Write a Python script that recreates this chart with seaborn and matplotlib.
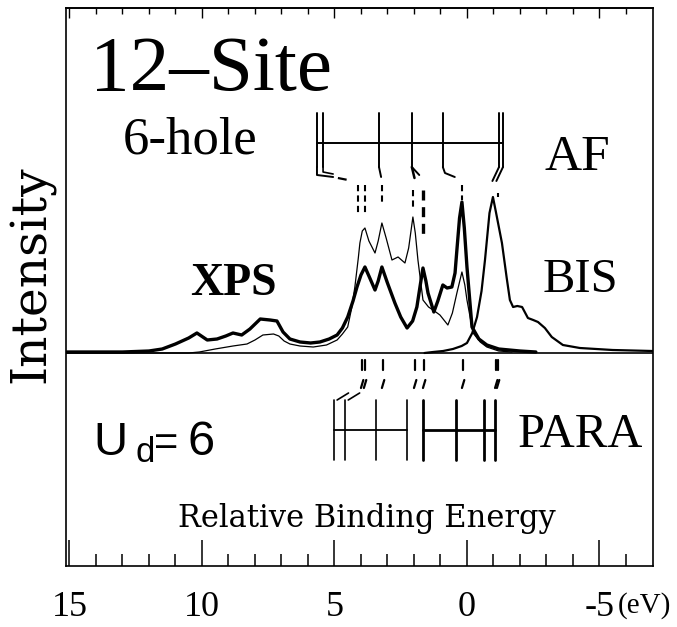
import matplotlib
matplotlib.use("Agg")
import matplotlib.pyplot as plt
import matplotlib.transforms as mtransforms
import pandas as pd
import seaborn as sns

# XPS, AF ground state (thick curve)
af_energy = [15.1, 13.0, 12.0, 11.5, 11.0, 10.5, 10.19, 9.8, 9.43, 9.1, 8.83, 8.5, 8.19, 7.8,
             7.43, 7.17, 6.94, 6.68, 6.3, 5.9, 5.55, 5.2, 4.9, 4.7, 4.5, 4.3, 4.15, 4.0, 3.85,
             3.65, 3.47, 3.35, 3.21, 3.0, 2.72, 2.5, 2.26, 2.05, 1.89, 1.75, 1.66, 1.55, 1.47,
             1.25, 1.1, 0.91, 0.75, 0.57, 0.45, 0.38, 0.28, 0.19, 0.1, 0.0, -0.19, -0.45,
             -0.75, -1.2, -2.0, -2.6]
af_intensity = [1, 1, 2, 4, 9, 15, 20, 13, 14, 17, 20, 18, 24, 34,
                33, 32, 21, 14, 11, 10, 11, 14, 18, 25, 36, 52, 66, 78, 86,
                74, 63, 72, 86, 70, 50, 36, 25, 32, 46, 70, 85, 72, 60,
                41, 52, 68, 65, 66, 80, 103, 135, 151, 125, 86, 26, 14,
                8, 4, 2, 1]

# XPS, paramagnetic (thin curve)
para_energy = [15.1, 12.0, 10.5, 10.1, 9.5, 8.83, 8.3, 8.0, 7.7, 7.3, 7.1, 6.9, 6.68, 6.3,
               5.8, 5.3, 4.9, 4.7, 4.5, 4.35, 4.23, 4.1, 4.04, 3.95, 3.85, 3.7, 3.47, 3.35,
               3.21, 3.05, 2.83, 2.6, 2.34, 2.2, 2.04, 1.95, 1.85, 1.66, 1.45, 1.28, 1.02,
               0.72, 0.55, 0.38, 0.19, 0.08, 0.0, -0.23, -0.5, -0.75, -1.2, -1.7]
para_intensity = [0, 0, 0, 1, 4, 7, 9, 13, 18, 19, 17, 12, 9, 7,
                  6, 8, 13, 19, 26, 45, 66, 95, 110, 122, 125, 112, 100, 112,
                  130, 115, 93, 96, 90, 105, 136, 120, 93, 53, 46, 43, 38,
                  28, 40, 60, 81, 68, 53, 20, 11, 6, 2, 1]

# BIS
bis_energy = [1.6, 1.28, 0.9, 0.53, 0.2, 0.0, -0.2, -0.38, -0.55, -0.68, -0.85, -0.98, -1.1,
              -1.32, -1.5, -1.62, -1.74, -1.9, -2.08, -2.3, -2.5, -2.68, -2.94, -3.2, -3.62,
              -4.26, -5.5, -7.0]
bis_intensity = [0, 1, 2, 4, 7, 10, 20, 36, 62, 93, 140, 156, 140,
                 110, 75, 53, 46, 47, 46, 35, 33, 31, 25, 16, 8,
                 5, 3, 2]

# level positions (eV)
af_levels = [5.66, 5.43, 3.32, 2.08, 0.91, -1.21, -1.36]
af_marks = [4.11, 3.85, 3.21, 2.04, 1.66, 0.19, -1.17]
para_levels = [5.02, 4.6, 3.43, 2.26, 1.66, 0.42, -0.64, -1.06]
para_marks = [3.96, 3.85, 3.17, 1.96, 1.62, 0.15, -1.1, -1.17]

major_ticks = [15, 10, 5, 0, -5]
major_labels = ["15", "10", "5", "0", "-5"]
minor_ticks = list(range(14, -7, -1))

sns.set_style("white")
plt.rcParams["font.family"] = ["Liberation Serif", "DejaVu Serif"]
plt.rcParams["text.color"] = "black"
plt.rcParams["xtick.color"] = "black"
SERIF = ["Liberation Serif", "DejaVu Serif"]
WIDE = ["DejaVu Serif"]
SANS = ["Liberation Sans", "DejaVu Sans"]

fig = plt.figure(figsize=(6.77, 6.27), dpi=100)
ax = fig.add_axes([66 / 677, 61 / 627, 587 / 677, 558 / 627])

spectra = pd.concat([
    pd.DataFrame({"E": af_energy, "I": af_intensity, "curve": "AF"}),
    pd.DataFrame({"E": para_energy, "I": para_intensity, "curve": "PARA"}),
    pd.DataFrame({"E": bis_energy, "I": bis_intensity, "curve": "BIS"}),
])
widths = {"AF": 2.4, "PARA": 0.9, "BIS": 1.6}
for name, part in spectra.groupby("curve"):
    sns.lineplot(data=part, x="E", y="I", ax=ax, color="black", lw=widths[name],
                 estimator=None, legend=False)

ax.axhline(0, color="black", lw=1.2)

ax.set_xlim(15.13, -7.02)
ax.set_ylim(-213, 345)
ax.set_xlabel("")
ax.set_ylabel("")
ax.set_yticks([])
ax.set_xticks(major_ticks)
ax.set_xticklabels(major_labels, fontsize=26, family=SERIF, color="black")
ax.set_xticks(minor_ticks, minor=True)
ax.tick_params(axis="x", which="major", direction="in", length=18.5, width=1.1, pad=18,
               bottom=True, top=False, color="black")
ax.tick_params(axis="x", which="minor", direction="in", length=8.5, width=1.1,
               bottom=True, top=False, color="black")
for s in ax.spines.values():
    s.set_linewidth(1.2)
    s.set_color("black")

top = ax.secondary_xaxis("top")
top.set_xticks(major_ticks)
top.set_xticks(minor_ticks, minor=True)
top.tick_params(which="major", direction="in", length=7, width=1.0, labeltop=False,
                color="black")
top.tick_params(which="minor", direction="in", length=4, width=1.0, labeltop=False,
                color="black")
top.spines["top"].set_linewidth(1.2)
top.spines["top"].set_color("black")

# AF level diagram
for e in af_levels:
    ax.plot([e, e], [240, 186], color="black", lw=1.4)
ax.plot([af_levels[0], af_levels[-1]], [210, 210], color="black", lw=1.4)
ax.plot([af_levels[0], af_levels[0], 5.05], [186, 178, 176], color="black", lw=1.4)
ax.plot([af_levels[1], af_levels[1], 5.05], [186, 181, 179], color="black", lw=1.2)
ax.plot([4.87, 4.3], [175, 172], color="black", lw=1.6, ls=(0, (4, 3)))
ax.plot([af_levels[2], af_levels[2] - 0.08], [186, 176], color="black", lw=1.4)
ax.plot([af_levels[3], af_levels[3] - 0.1], [186, 175], color="black", lw=1.8)
ax.plot([af_levels[3], af_levels[3] - 0.28], [186, 178], color="black", lw=1.4)
ax.plot([af_levels[4], af_levels[4] - 0.08, af_levels[4] - 0.45], [186, 180, 176],
        color="black", lw=1.4)
for e in af_levels[-2:]:
    ax.plot([e, e + 0.25], [186, 172], color="black", lw=1.4)

mark_spans = [(168, 138), (168, 138), (168, 148), (163, 143), (163, 113), (168, 153), (160, 156)]
for e, (y0, y1) in zip(af_marks, mark_spans):
    lw = 2.4 if e == af_marks[4] else 1.5
    ax.plot([e, e], [y0, y1], color="black", lw=lw, ls=(0, (3, 2)))

# PARA level diagram
for i, e in enumerate(para_levels):
    ax.plot([e, e], [-47, -107], color="black", lw=1.2 if i < 4 else 2.0)
ax.plot([para_levels[0], para_levels[3]], [-77, -77], color="black", lw=1.3)
ax.plot([para_levels[4], para_levels[-1]], [-77, -77], color="black", lw=2.0)
for e in para_levels[:2]:
    ax.plot([e - 0.12, e - 0.55], [-47, -40], color="black", lw=1.2)
for e in para_marks:
    ax.plot([e, e], [-7, -17], color="black", lw=1.6)
    ax.plot([e + 0.04, e - 0.05], [-35, -27], color="black", lw=1.6)

# labels
ax.text(14.23, 263, "12–Site", fontsize=57, family=SERIF, ha="left", va="baseline")
ax.text(12.98, 200, "6-hole", fontsize=38, family=SERIF, ha="left", va="baseline")
ax.text(-2.94, 183, "AF", fontsize=37, family=SERIF, ha="left", va="baseline")
ax.text(10.45, 58, "XPS", fontsize=33, family=SERIF, weight="bold", ha="left", va="baseline")
ax.text(-2.87, 61, "BIS", fontsize=35, family=SERIF, ha="left", va="baseline")
ax.text(-1.92, -94, "PARA", fontsize=35, family=SERIF, ha="left", va="baseline")
ax.text(14.1, -102, "U", fontsize=34, family=SANS, ha="left", va="baseline")
ax.text(12.5, -109, "d", fontsize=25, family=SANS, ha="left", va="baseline")
ax.text(11.8, -102, "=", fontsize=30, family=SANS, ha="left", va="baseline")
ax.text(10.55, -102, "6", fontsize=35, family=SANS, ha="left", va="baseline")
ax.text(3.77, -174, "Relative Binding Energy", fontsize=22, family=WIDE, ha="center",
        va="baseline")
trans = mtransforms.blended_transform_factory(ax.transData, ax.transAxes)
ax.text(-5.68, -0.0705, "(eV)", fontsize=21, family=SERIF, ha="left", va="center",
        transform=trans, clip_on=False)
fig.text(32 / 677, 1 - 274 / 627, "Intensity", fontsize=35, family=WIDE, rotation=90,
         ha="center", va="center")

fig.savefig("out.png", dpi=100)
